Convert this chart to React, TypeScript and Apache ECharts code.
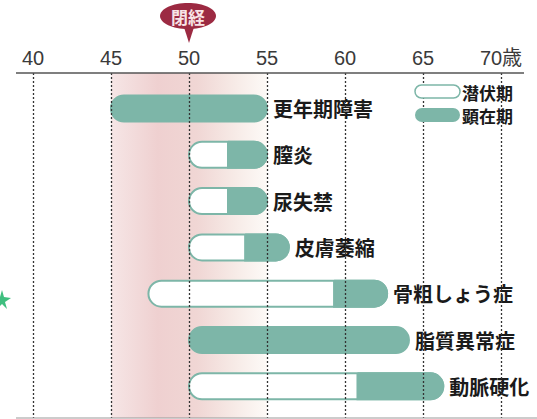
import React, { useEffect, useRef } from "react";
import * as echarts from "echarts";

const categories = ["更年期障害", "膣炎", "尿失禁", "皮膚萎縮", "骨粗しょう症", "脂質異常症", "動脈硬化"];
// start of latent period, start of manifest period, end (age)
const latentStart = [45, 50, 50, 50, 47.4, 50, 50];
const manifestStart = [45, 52.5, 52.5, 53.6, 59.3, 50, 60.8];
const periodEnd = [55, 55, 55, 56.4, 62.7, 64.1, 66.3];
const tickValues = [40, 45, 50, 55, 60, 65, 70];
const menopauseBand = [45, 55];
const legendNames = ["潜伏期", "顕在期"];

const TEAL = "#7db6a8";

export default function App() {
  const ref = useRef<HTMLDivElement>(null);
  useEffect(() => {
    if (!ref.current) return;
    const chart = echarts.init(ref.current, null, { renderer: "svg" });
    const data = categories.map((c, i) => [i, latentStart[i], manifestStart[i], periodEnd[i]]);
    const option: any = {
      animation: false,
      grid: { left: 33, right: 36, top: 73, bottom: 1 },
      xAxis: {
        type: "value",
        position: "top",
        min: tickValues[0],
        max: tickValues[tickValues.length - 1],
        interval: 5,
        z: 10,
        axisLine: { show: false },
        axisTick: { show: false },
        axisLabel: {
          margin: 5,
          fontSize: 20,
          color: "#3a3a3a",
          fontFamily: "Liberation Sans, Noto Sans CJK JP",
          formatter: (v: number) => (v === 70 ? "70歳" : String(v)),
        },
        splitLine: { show: true, lineStyle: { color: "#333", type: [2, 2], width: 1.3 } },
      },
      yAxis: {
        type: "value",
        inverse: true,
        min: -0.767,
        max: 6.684,
        show: false,
      },
      series: [
        {
          type: "line",
          data: [],
          z: 1,
          silent: true,
          markArea: {
            silent: true,
            itemStyle: {
              color: new echarts.graphic.LinearGradient(0, 0, 1, 0, [
                { offset: 0, color: "#f6e6e6" },
                { offset: 0.3, color: "#efd0d0" },
                { offset: 0.55, color: "#f0d6d4" },
                { offset: 0.8, color: "#f7ebe7" },
                { offset: 1, color: "#fdfaf7" },
              ]),
            },
            data: [[{ xAxis: menopauseBand[0] }, { xAxis: menopauseBand[1] }]],
          },
        },
        {
          type: "custom",
          z: 3,
          data,
          encode: { x: [1, 2, 3], y: 0 },
          renderItem: (params: any, api: any) => {
            const i = api.value(0);
            const s = api.value(1);
            const m = api.value(2);
            const e = api.value(3);
            const p0 = api.coord([s, i]);
            const pm = api.coord([m, i]);
            const p1 = api.coord([e, i]);
            const h = 26;
            const y = p0[1];
            const children: any[] = [];
            if (m > s) {
              children.push({
                type: "rect",
                shape: { x: p0[0], y: y - h / 2, width: p1[0] - p0[0], height: h, r: h / 2 },
                style: { fill: "#fff", stroke: TEAL, lineWidth: 2 },
              });
              children.push({
                type: "rect",
                shape: { x: pm[0], y: y - h / 2, width: p1[0] - pm[0], height: h, r: [0, h / 2, h / 2, 0] },
                style: { fill: TEAL, stroke: TEAL, lineWidth: 2 },
              });
            } else {
              children.push({
                type: "rect",
                shape: { x: p0[0], y: y - h / 2, width: p1[0] - p0[0], height: h, r: h / 2 },
                style: { fill: TEAL, stroke: TEAL, lineWidth: 2 },
              });
            }
            children.push({
              type: "text",
              x: p1[0] + 6,
              y: y,
              style: {
                text: categories[params.dataIndex],
                fill: "#1a1a1a",
                fontSize: 20,
                fontWeight: "bold",
                fontFamily: "Noto Sans CJK JP",
                verticalAlign: "middle",
                align: "left",
              },
            });
            return { type: "group", children };
          },
        },
      ],
      graphic: [
        { type: "line", shape: { x1: 16, y1: 73, x2: 524, y2: 73 }, style: { stroke: "#555", lineWidth: 1.5 }, z: 20 },
        { type: "line", shape: { x1: 16, y1: 418, x2: 537, y2: 418 }, style: { stroke: "#999", lineWidth: 1 }, z: 20 },
        // callout
        { type: "polygon", shape: { points: [[183, 24], [195, 24], [189, 43]] }, style: { fill: "#9c2a42" }, z: 20 },
        { type: "ellipse", shape: { cx: 188, cy: 16, rx: 28, ry: 13 }, style: { fill: "#9c2a42" }, z: 20 },
        {
          type: "text",
          x: 188,
          y: 16,
          z: 21,
          style: {
            text: "閉経",
            fill: "#f8e4e6",
            fontSize: 17,
            fontWeight: "bold",
            fontFamily: "Noto Sans CJK JP",
            align: "center",
            verticalAlign: "middle",
          },
        },
        // legend
        { type: "rect", shape: { x: 415, y: 85, width: 45, height: 13, r: 6.5 }, style: { fill: "#fff", stroke: TEAL, lineWidth: 1.5 }, z: 20 },
        { type: "rect", shape: { x: 415, y: 108, width: 45, height: 14, r: 7 }, style: { fill: TEAL }, z: 20 },
        {
          type: "text", x: 462, y: 92, z: 20,
          style: { text: legendNames[0], fill: "#1a1a1a", fontSize: 17, fontWeight: "bold", fontFamily: "Noto Sans CJK JP", verticalAlign: "middle" },
        },
        {
          type: "text", x: 462, y: 115, z: 20,
          style: { text: legendNames[1], fill: "#1a1a1a", fontSize: 17, fontWeight: "bold", fontFamily: "Noto Sans CJK JP", verticalAlign: "middle" },
        },
        // decorative star at left edge
        {
          type: "polygon",
          z: 20,
          shape: { points: [[2, 290], [4, 297], [11, 298], [5, 302], [7, 309], [2, 304], [-3, 309], [-1, 302], [-7, 298], [0, 297]] },
          style: { fill: "#3fbf7f" },
        },
      ],
    };
    chart.setOption(option);
    return () => chart.dispose();
  }, []);
  return <div ref={ref} style={{ position: "absolute", left: 0, top: 0, width: 537, height: 419 }} />;
}
